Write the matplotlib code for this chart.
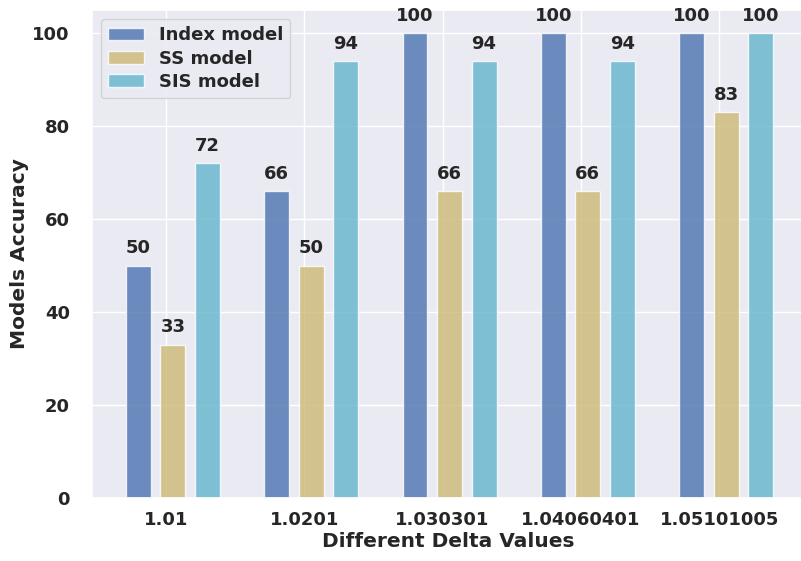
import matplotlib
matplotlib.use("Agg")
import matplotlib.pyplot as plt
import numpy as np
import seaborn as sns

sns.set_theme(style="darkgrid")
plt.rcParams['font.family'] = ['DejaVu Sans']

categories = ["1.01", "1.0201", "1.030301", "1.04060401", "1.05101005"]
index_model = [50, 66, 100, 100, 100]
ss_model = [33, 50, 66, 66, 83]
sis_model = [72, 94, 94, 94, 100]
series_names = ["Index model", "SS model", "SIS model"]

colors = ["#4C72B0", "#CCB974", "#64B5CD"]
offsets = [-0.2, 0.05, 0.3]

fig = plt.figure(figsize=(8.01, 5.61), dpi=100)
ax = fig.add_axes([92 / 801, 1 - 498 / 561, (805 - 92) / 801, (498 - 10) / 561])
x = np.arange(len(categories))
width = 0.18
for vals, name, c, off in zip([index_model, ss_model, sis_model], series_names, colors, offsets):
    pos = x + off
    bars = ax.bar(pos, vals, width, color=c, alpha=0.8, label=name)
    for b, v in zip(bars, vals):
        ax.annotate(f"{v}", (b.get_x() + b.get_width() / 2, v), xytext=(0, 6),
                    textcoords="offset points", ha="center", va="bottom",
                    fontsize=13, fontweight="bold", color="#262626")

ax.set_xticks(x)
ax.set_xticklabels(categories, fontweight="bold", fontsize=13)
ax.tick_params(axis="y", labelsize=13, pad=10)
for lab in ax.get_yticklabels():
    lab.set_fontweight("bold")
ax.set_ylim(0, 105)
ax.set_xlim(-0.535, 4.62)
ax.set_xlabel("Different Delta Values", fontweight="bold", fontsize=14.5, labelpad=2)
ax.set_ylabel("Models Accuracy", fontweight="bold", fontsize=14.5, labelpad=2)
leg = ax.legend(loc="upper left", prop={"weight": "bold", "size": 13}, labelspacing=0.3)

fig.savefig("out.png", dpi=100)
